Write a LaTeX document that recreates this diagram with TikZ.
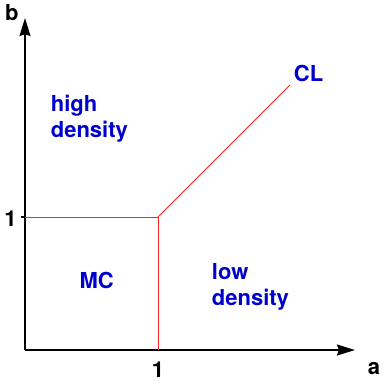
\documentclass[tikz,border=0pt]{standalone}
\usepackage{fontspec}
\setmainfont{TeX Gyre Heros}
\usetikzlibrary{arrows.meta}
\tikzset{
  axis/.style={line width=1.6pt, -{Stealth[length=18pt, width=11pt, inset=2pt]}},
  border/.style={line width=0.8pt, red!85},
  region/.style={font=\fontsize{22}{26}\selectfont\bfseries, text=blue!80!black, inner sep=0pt},
  axislabel/.style={font=\fontsize{22}{26}\selectfont\bfseries, inner sep=0pt}
}
\begin{document}
\begin{tikzpicture}[x=133pt, y=133pt]
  \useasboundingbox (-0.188,-0.226) rectangle (2.692,2.632);
  \coordinate (O) at (0.000,0.000);
  \coordinate (A) at (2.481,0.000);
  \coordinate (B) at (0.000,2.496);
  \coordinate (P) at (1.000,1.000);
  \coordinate (Pa) at (1.000,0.000);
  \coordinate (Pb) at (0.000,1.000);
  \coordinate (Q) at (1.992,1.992);
  \draw[axis] (O) -- (A);
  \draw[axis] (O) -- (B);
  \draw[line width=1.6pt] (-0.030,1.000) -- (Pb);
  \draw[border] (Pb) -- (P) -- (Pa);
  \draw[border] (P) -- (Q);
  \node[axislabel] (la) at (2.624,-0.140) {a};
  \node[axislabel] (lb) at (-0.098,2.541) {b};
  \node[axislabel] (ta) at (1.000,-0.150) {1};
  \node[axislabel] (tb) at (-0.109,0.985) {1};
  \node[region] (mc) at (0.539,0.524) {MC};
  \node[region] (cl) at (2.132,2.079) {CL};
  \node[region, anchor=north west, align=left] (hd) at (0.193,1.917) {high\\density};
  \node[region, anchor=north west, align=left] (ld) at (1.404,0.652) {low\\density};
\end{tikzpicture}
\end{document}
